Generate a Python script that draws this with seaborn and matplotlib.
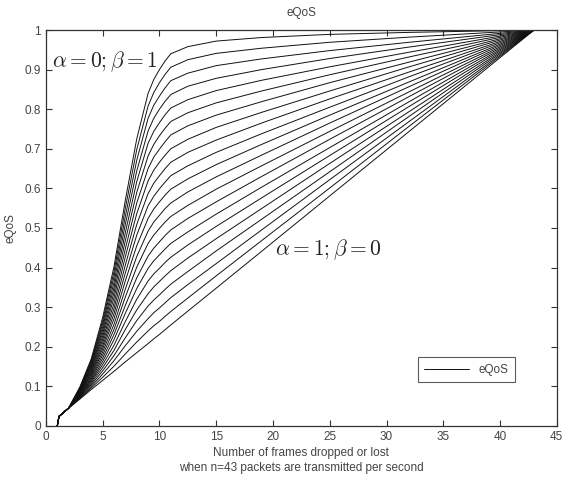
import matplotlib
matplotlib.use('Agg')
import matplotlib.pyplot as plt
import seaborn as sns
import pandas as pd

# frames dropped (x positions the curves were read at)
frames = [1, 1.15, 2, 3, 4, 5, 6, 7, 8, 9, 9.5, 10, 10.5, 11, 12.5, 15, 19, 25, 32, 43]

# alpha from 0 (top curve, beta=1) to 1 (straight line, beta=0)
alphas = [round(i * 0.05, 2) for i in range(21)]

# eQoS values per curve (one row per alpha)
eqos_curves = [
    [0, .024, .045, .099, .170, .274, .403, .571, .725, .840, .875, .900, .922, .940, .958, .972, .981, .989, .994, 1],
    [0, .024, .045, .097, .166, .266, .390, .551, .698, .808, .842, .867, .888, .906, .925, .941, .954, .969, .982, 1],
    [0, .024, .045, .096, .162, .258, .377, .530, .671, .777, .810, .833, .854, .872, .891, .910, .927, .948, .969, 1],
    [0, .024, .045, .094, .158, .250, .363, .510, .644, .745, .777, .800, .820, .837, .858, .878, .900, .928, .957, 1],
    [0, .024, .045, .093, .154, .242, .350, .489, .617, .714, .744, .766, .786, .803, .824, .847, .873, .907, .944, 1],
    [0, .024, .045, .091, .151, .234, .337, .469, .590, .682, .711, .733, .752, .769, .791, .816, .846, .887, .932, 1],
    [0, .024, .045, .090, .147, .226, .324, .448, .563, .650, .679, .699, .718, .735, .758, .785, .819, .867, .919, 1],
    [0, .024, .045, .088, .143, .218, .310, .428, .536, .619, .646, .666, .684, .700, .724, .754, .792, .846, .907, 1],
    [0, .024, .045, .087, .139, .210, .297, .407, .509, .587, .613, .632, .650, .666, .691, .722, .765, .826, .894, 1],
    [0, .024, .045, .085, .135, .202, .284, .387, .482, .556, .580, .599, .616, .632, .657, .691, .738, .805, .882, 1],
    [0, .024, .045, .084, .131, .195, .271, .367, .455, .524, .548, .566, .583, .598, .624, .660, .711, .785, .869, 1],
    [0, .024, .045, .082, .127, .187, .257, .346, .428, .492, .515, .532, .549, .563, .591, .629, .684, .765, .857, 1],
    [0, .024, .045, .080, .123, .179, .244, .326, .401, .461, .482, .499, .515, .529, .557, .598, .657, .744, .844, 1],
    [0, .024, .045, .079, .119, .171, .231, .305, .374, .429, .449, .465, .481, .495, .524, .566, .630, .724, .832, 1],
    [0, .024, .045, .077, .115, .163, .218, .285, .347, .398, .417, .432, .447, .461, .490, .535, .603, .703, .819, 1],
    [0, .024, .045, .076, .112, .155, .204, .264, .320, .366, .384, .398, .413, .426, .457, .504, .576, .683, .807, 1],
    [0, .024, .045, .074, .108, .147, .191, .244, .293, .334, .351, .365, .379, .392, .424, .473, .549, .663, .794, 1],
    [0, .024, .045, .073, .104, .139, .178, .223, .266, .303, .318, .331, .345, .358, .390, .442, .522, .642, .782, 1],
    [0, .024, .045, .071, .100, .131, .165, .203, .239, .271, .286, .298, .311, .324, .357, .410, .495, .622, .769, 1],
    [0, .024, .045, .070, .096, .123, .151, .182, .212, .240, .253, .264, .277, .289, .323, .379, .468, .601, .757, 1],
    [0, .024, .045, .068, .092, .115, .138, .162, .185, .208, .220, .231, .243, .255, .290, .348, .441, .581, .744, 1],
]

x_ticks = [0, 5, 10, 15, 20, 25, 30, 35, 40, 45]
y_ticks = [0, 0.1, 0.2, 0.3, 0.4, 0.5, 0.6, 0.7, 0.8, 0.9, 1]
y_tick_labels = ['0', '0.1', '0.2', '0.3', '0.4', '0.5', '0.6', '0.7', '0.8', '0.9', '1']

rows = []
for a, curve in zip(alphas, eqos_curves):
    for x, y in zip(frames, curve):
        rows.append({'frames': x, 'eqos': y, 'alpha': a})
df = pd.DataFrame(rows)

sns.set_style('ticks')
plt.rcParams['font.family'] = ['Liberation Sans', 'DejaVu Sans']
plt.rcParams['mathtext.fontset'] = 'cm'

fig, ax = plt.subplots(figsize=(5.67, 4.84), dpi=100)
fig.subplots_adjust(left=0.081, right=0.982, top=0.938, bottom=0.12)

sns.lineplot(data=df, x='frames', y='eqos', units='alpha', estimator=None,
             color='#111111', linewidth=0.7, ax=ax, label='eQoS', legend=False)

ax.set_xlim(0, 45)
ax.set_ylim(0, 1)
ax.set_xticks(x_ticks)
ax.set_yticks(y_ticks)
ax.set_yticklabels(y_tick_labels)
ax.tick_params(direction='in', top=True, right=True, length=4, width=0.8,
               labelsize=8.5, colors='#333333', labelcolor='#444444')
for spine in ax.spines.values():
    spine.set_color('#333333')
    spine.set_linewidth(0.9)

ax.set_title('eQoS', fontsize=8.5, color='#444444', pad=10)
ax.set_xlabel('Number of frames dropped or lost\nwhen n=43 packets are transmitted per second',
              fontsize=8.5, color='#444444', linespacing=1.35, labelpad=3)
ax.set_ylabel('eQoS', fontsize=8.5, color='#444444', labelpad=6)

# curve annotations
ax.text(0.5, 0.92, r'$\alpha = 0; \beta = 1$', fontsize=15.5, color='#222222', va='center')
ax.text(20.2, 0.445, r'$\alpha = 1; \beta = 0$', fontsize=15.5, color='#222222', va='center')

# single legend entry
handles, labels = ax.get_legend_handles_labels()
leg = ax.legend(handles[:1], ['eQoS'], loc='lower right', bbox_to_anchor=(0.93, 0.095),
                fontsize=8.5, frameon=True, fancybox=False, handlelength=3.8,
                borderpad=0.55, edgecolor='#333333')
leg.get_frame().set_linewidth(0.8)
for t in leg.get_texts():
    t.set_color('#444444')

fig.savefig('out.png', dpi=100)
